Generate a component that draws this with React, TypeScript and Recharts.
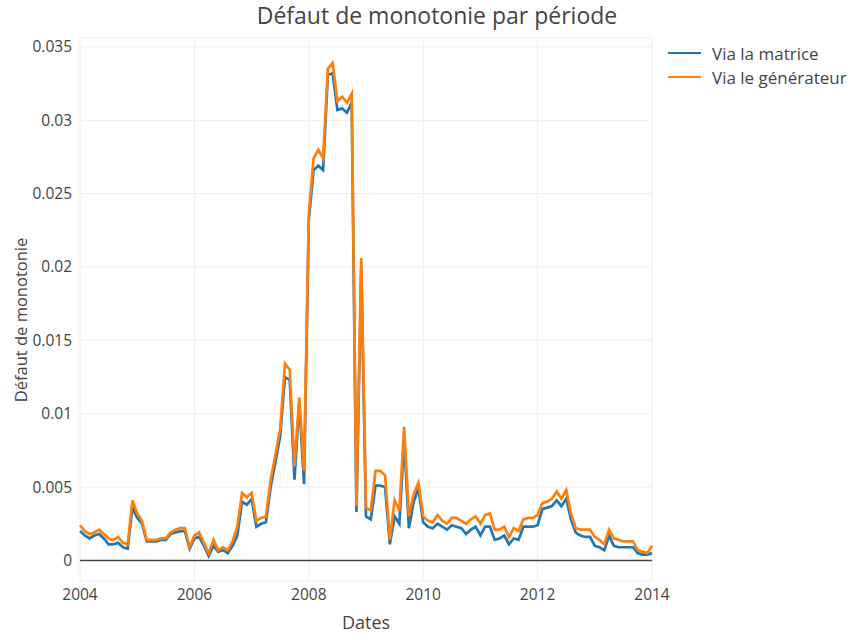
import { LineChart, Line, XAxis, YAxis, CartesianGrid, ReferenceLine } from 'recharts';

// monthly points, Jan 2004 -> Jan 2014
const startYear = 2004;

const viaMatrice = [
  0.0020, 0.0017, 0.0015, 0.0017, 0.0018, 0.0015, 0.0011, 0.0011, 0.0012, 0.0009,
  0.0008, 0.0036, 0.0029, 0.0025, 0.0013, 0.0013, 0.0013, 0.0014, 0.0014, 0.0018,
  0.0019, 0.0020, 0.0020, 0.0008, 0.0015, 0.0016, 0.0010, 0.0003, 0.0010, 0.0006,
  0.0007, 0.0005, 0.0010, 0.0017, 0.0040, 0.0038, 0.0042, 0.0023, 0.0025, 0.0026,
  0.0050, 0.0067, 0.0085, 0.0125, 0.0123, 0.0055, 0.0108, 0.0052, 0.0232, 0.0266,
  0.0269, 0.0266, 0.0331, 0.0332, 0.0307, 0.0308, 0.0305, 0.0312, 0.0033, 0.0199,
  0.0030, 0.0028, 0.0051, 0.0051, 0.0050, 0.0011, 0.0030, 0.0025, 0.0082, 0.0022,
  0.0040, 0.0049, 0.0026, 0.0023, 0.0022, 0.0025, 0.0023, 0.0021, 0.0024, 0.0023,
  0.0022, 0.0018, 0.0021, 0.0023, 0.0017, 0.0023, 0.0023, 0.0014, 0.0015, 0.0017,
  0.0011, 0.0015, 0.0014, 0.0023, 0.0023, 0.0023, 0.0024, 0.0035, 0.0036, 0.0037,
  0.0041, 0.0037, 0.0042, 0.0028, 0.0019, 0.0017, 0.0016, 0.0016, 0.0010, 0.0009,
  0.0007, 0.0017, 0.0010, 0.0009, 0.0009, 0.0009, 0.0009, 0.0005, 0.0004, 0.0004,
  0.0005,
];

const viaGenerateur = [
  0.0024, 0.0020, 0.0018, 0.0019, 0.0021, 0.0018, 0.0015, 0.0014, 0.0016, 0.0012,
  0.0011, 0.0041, 0.0032, 0.0027, 0.0014, 0.0014, 0.0014, 0.0015, 0.0015, 0.0019,
  0.0021, 0.0022, 0.0022, 0.0009, 0.0017, 0.0019, 0.0012, 0.0005, 0.0014, 0.0007,
  0.0009, 0.0007, 0.0013, 0.0023, 0.0046, 0.0043, 0.0046, 0.0027, 0.0029, 0.0030,
  0.0055, 0.0072, 0.0090, 0.0134, 0.0130, 0.0064, 0.0111, 0.0061, 0.0236, 0.0274,
  0.0280, 0.0274, 0.0335, 0.0339, 0.0313, 0.0316, 0.0312, 0.0318, 0.0037, 0.0206,
  0.0036, 0.0034, 0.0061, 0.0061, 0.0058, 0.0014, 0.0041, 0.0034, 0.0091, 0.0030,
  0.0045, 0.0053, 0.0030, 0.0027, 0.0026, 0.0031, 0.0027, 0.0025, 0.0029, 0.0029,
  0.0027, 0.0025, 0.0028, 0.0030, 0.0025, 0.0031, 0.0032, 0.0021, 0.0021, 0.0023,
  0.0016, 0.0022, 0.0020, 0.0028, 0.0029, 0.0029, 0.0031, 0.0039, 0.0040, 0.0042,
  0.0047, 0.0042, 0.0048, 0.0032, 0.0022, 0.0021, 0.0021, 0.0021, 0.0016, 0.0014,
  0.0011, 0.0021, 0.0015, 0.0014, 0.0013, 0.0013, 0.0013, 0.0007, 0.0006, 0.0005,
  0.0010,
];

const xTicks = [2004, 2006, 2008, 2010, 2012, 2014];
const yTicks = [0, 0.005, 0.01, 0.015, 0.02, 0.025, 0.03, 0.035];

const seriesNames = { matrice: 'Via la matrice', generateur: 'Via le générateur' };
const colors = { matrice: '#1f77b4', generateur: '#ff7f0e' };

const data = viaMatrice.map((v, i) => ({
  date: startYear + i / 12,
  matrice: v,
  generateur: viaGenerateur[i],
}));

const font = '"Open Sans", "Noto Sans", sans-serif';
const textColor = '#444';

export default function App() {
  return (
    <div style={{ position: 'absolute', left: 0, top: 0, width: 856, height: 639, background: '#fff', fontFamily: font }}>
      <LineChart width={856} height={639} data={data} margin={{ top: 38, right: 204, bottom: 0, left: 0 }}>
        <CartesianGrid stroke="#eee" strokeWidth={1} />
        <XAxis
          dataKey="date"
          type="number"
          domain={[2004, 2014]}
          ticks={xTicks}
          axisLine={false}
          tickLine={false}
          tickSize={0}
          tickMargin={8}
          height={58}
          tick={{ fill: textColor, fontSize: 15.5, fontFamily: font }}
        />
        <YAxis
          type="number"
          domain={[-0.0014, 0.0356]}
          ticks={yTicks}
          allowDataOverflow
          axisLine={false}
          tickLine={false}
          tickSize={0}
          tickMargin={8}
          width={80}
          tickFormatter={(v: number) => (v === 0 ? '0' : String(+v.toFixed(3)))}
          tick={{ fill: textColor, fontSize: 15.5, fontFamily: font }}
        />
        <ReferenceLine y={0} stroke="#444" strokeWidth={1.5} />
        <Line type="linear" dataKey="matrice" stroke={colors.matrice} strokeWidth={2.7} dot={false} isAnimationActive={false} />
        <Line type="linear" dataKey="generateur" stroke={colors.generateur} strokeWidth={2.7} dot={false} isAnimationActive={false} />
      </LineChart>

      <div style={{ position: 'absolute', left: 0, width: 874, top: -1, textAlign: 'center', fontSize: 23, color: textColor }}>
        Défaut de monotonie par période
      </div>
      <div style={{ position: 'absolute', left: 80, width: 572, top: 610, textAlign: 'center', fontSize: 18, color: textColor }}>
        Dates
      </div>
      <div
        style={{
          position: 'absolute', left: 20, top: 320, fontSize: 16.5, color: textColor, whiteSpace: 'nowrap',
          transform: 'translate(-50%, -50%) rotate(-90deg)',
        }}
      >
        Défaut de monotonie
      </div>

      <div style={{ position: 'absolute', left: 668, top: 41, fontSize: 17, color: textColor }}>
        {(['matrice', 'generateur'] as const).map((k) => (
          <div key={k} style={{ display: 'flex', alignItems: 'center', height: 24 }}>
            <span style={{ display: 'inline-block', width: 33, height: 0, borderTop: `2.5px solid ${colors[k]}`, marginRight: 11 }} />
            {seriesNames[k]}
          </div>
        ))}
      </div>
    </div>
  );
}
